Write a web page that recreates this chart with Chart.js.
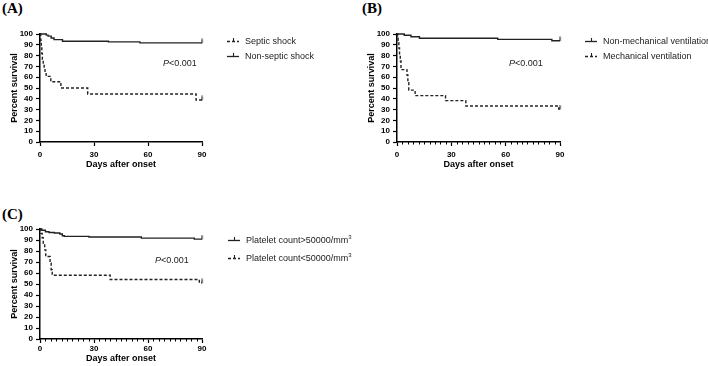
<!DOCTYPE html>
<html><head><meta charset="utf-8">
<script src="https://cdn.jsdelivr.net/npm/chart.js@4"></script>
<style>
html,body{margin:0;padding:0;background:#fff;}
body{width:708px;height:366px;position:relative;overflow:hidden;font-family:"Liberation Sans",Arial,sans-serif;}
canvas{position:absolute;}
.lbl{position:absolute;font-family:"Liberation Serif","Times New Roman",serif;font-weight:bold;font-size:15px;line-height:15px;color:#000;}
.p{position:absolute;font-size:9px;line-height:10px;color:#222;white-space:nowrap;}
.leg{position:absolute;font-size:9px;line-height:10px;height:10px;color:#222;white-space:nowrap;}
.leg svg{position:absolute;left:0;top:0;}
.leg span{position:absolute;top:0;}
sup{font-size:6px;line-height:0;vertical-align:4px;}
</style></head>
<body>
<div class="lbl" style="left:2px;top:1px">(A)</div>
<div class="lbl" style="left:362px;top:1px">(B)</div>
<div class="lbl" style="left:2px;top:207px">(C)</div>
<canvas id="cA" width="215" height="175" style="left:0;top:0"></canvas>
<canvas id="cB" width="215" height="175" style="left:357px;top:0"></canvas>
<canvas id="cC" width="215" height="171" style="left:0;top:195px"></canvas>
<div class="p" style="left:163px;top:58px"><i>P</i>&lt;0.001</div>
<div class="p" style="left:509px;top:58px"><i>P</i>&lt;0.001</div>
<div class="p" style="left:155px;top:255px"><i>P</i>&lt;0.001</div>
<div id="legends"></div>
<script>
// ---- Data ----
const xTicks = [0, 30, 60, 90];
const yTicks = [0, 10, 20, 30, 40, 50, 60, 70, 80, 90, 100];

// Panel A
const aSepticT = [0, 0.4, 0.7, 1.0, 1.3, 1.8, 2.3, 2.8, 3.4, 6.0, 11.6, 26.5, 86.7, 90];
const aSepticS = [100, 94, 88, 82, 76, 72, 68, 64, 60.8, 55.8, 50, 44.5, 38.9, 38.9];
const aNonSepticT = [0, 3.5, 4.5, 6.2, 7.8, 12.5, 38, 55.5, 90];
const aNonSepticS = [100, 99, 98, 96.3, 94.8, 93.3, 92.7, 91.8, 91.8];

// Panel B
const bNonMechT = [0, 4, 7.7, 12.4, 55.6, 85.5, 90];
const bNonMechS = [100, 98.8, 97.5, 96, 95, 93.8, 93.8];
const bMechT = [0, 0.3, 0.6, 1.0, 1.4, 1.8, 2.2, 5.5, 6.0, 6.5, 10.0, 26.8, 38, 89.3, 90];
const bMechS = [100, 96, 92, 87, 81, 75, 67, 62, 55, 48, 42.9, 38.3, 33.3, 30.5, 30.5];

// Panel C
const cHighT = [0, 1, 3, 5, 8, 11, 12.4, 13.5, 27.2, 56.3, 85.7, 90];
const cHighS = [100, 98.8, 97.5, 96.8, 96.3, 95.4, 93.9, 93.3, 92.7, 91.7, 90.8, 90.8];
const cLowT = [0, 0.5, 1.2, 1.8, 2.6, 3.2, 5.6, 6.2, 6.8, 39, 88.5, 90];
const cLowS = [100, 96, 92, 87, 81, 75, 69, 63, 58, 54.1, 51, 51];

const labelsA = ['Septic shock', 'Non-septic shock'];
const labelsB = ['Non-mechanical ventilation', 'Mechanical ventilation'];
const labelsC = ['Platelet count>50000/mm<sup>3</sup>', 'Platelet count<50000/mm<sup>3</sup>'];

// ---- Rendering ----
const FONT = '"Liberation Sans", Arial, sans-serif';
const INK = '#222';

function pts(t, s) { return t.map((v, i) => ({x: v, y: s[i]})); }

// censor tick image (upward tick from the point)
const tick = document.createElement('canvas');
tick.width = 3; tick.height = 9;
(function(){ const c = tick.getContext('2d'); c.strokeStyle = INK; c.lineWidth = 1.2; c.beginPath(); c.moveTo(1.5, 0.5); c.lineTo(1.5, 4.8); c.stroke(); })();

const minorTicks = {
  id: 'minorTicks',
  afterDraw(chart, args, opts) {
    if (!opts || !opts.step) return;
    const xs = chart.scales.x, ctx = chart.ctx, b = chart.chartArea.bottom;
    ctx.save(); ctx.strokeStyle = '#000'; ctx.lineWidth = 1;
    for (let v = opts.step; v < 90; v += opts.step) {
      if (v % 30 === 0) continue;
      const px = Math.round(xs.getPixelForValue(v)) + 0.5;
      ctx.beginPath(); ctx.moveTo(px, b); ctx.lineTo(px, b + opts.len); ctx.stroke();
    }
    ctx.restore();
  }
};

function curve(t, s, dashed) {
  return {
    data: pts(t, s), stepped: 'before', borderColor: INK, borderWidth: 1.4,
    borderDash: dashed ? [3, 2] : [], pointRadius: 0, fill: false, clip: false
  };
}
function censor(t, s) {
  const i = t.length - 1;
  return { data: [{x: t[i], y: s[i]}], showLine: false, pointStyle: tick, pointRadius: 3, clip: false };
}

function makeChart(id, series, cfg) {
  const datasets = [];
  series.forEach(sr => { datasets.push(curve(sr.t, sr.s, sr.dashed)); datasets.push(censor(sr.t, sr.s)); });
  new Chart(document.getElementById(id), {
    type: 'line',
    data: { datasets },
    plugins: [minorTicks],
    options: {
      responsive: false, animation: false, devicePixelRatio: 1,
      layout: { padding: cfg.pad },
      plugins: { legend: {display: false}, tooltip: {enabled: false}, minorTicks: cfg.minor },
      scales: {
        x: {
          type: 'linear', min: 0, max: 90,
          afterBuildTicks: s => { s.ticks = xTicks.map(v => ({value: v})); },
          ticks: { font: {family: FONT, size: 8, weight: 'bold'}, color: '#000', padding: cfg.xTickPad, maxRotation: 0, autoSkip: false },
          grid: { drawOnChartArea: false, drawTicks: true, tickLength: 4, tickColor: '#000', tickWidth: 1.2 },
          border: { display: true, color: '#000', width: 1.5 },
          title: { display: true, text: 'Days after onset', color: '#000', font: {family: FONT, size: 9, weight: 'bold'}, padding: {top: 0, bottom: cfg.xTitlePad} },
          afterFit: s => { s.height = cfg.xH; }
        },
        y: {
          min: 0, max: 100,
          afterBuildTicks: s => { s.ticks = yTicks.map(v => ({value: v})); },
          ticks: { font: {family: FONT, size: 8, weight: 'bold'}, color: '#000', padding: 3, autoSkip: false },
          grid: { drawOnChartArea: false, drawTicks: true, tickLength: 4, tickColor: '#000', tickWidth: 1.2 },
          border: { display: true, color: '#000', width: 1.5 },
          title: { display: true, text: 'Percent survival', color: '#000', font: {family: FONT, size: 9, weight: 'bold'}, padding: {top: 9.6, bottom: 0} },
          afterFit: s => { s.width = 40; }
        }
      }
    }
  });
}

makeChart('cA', [
  {t: aSepticT, s: aSepticS, dashed: true},
  {t: aNonSepticT, s: aNonSepticS, dashed: false}
], {pad: {left: 0, top: 34, right: 13, bottom: 3}, xH: 30, xTickPad: 3.5, xTitlePad: 2.3, minor: null});

makeChart('cB', [
  {t: bNonMechT, s: bNonMechS, dashed: false},
  {t: bMechT, s: bMechS, dashed: true}
], {pad: {left: 0, top: 34, right: 12, bottom: 3}, xH: 30, xTickPad: 3.5, xTitlePad: 2.3, minor: {step: 3, len: 2.5}});

makeChart('cC', [
  {t: cHighT, s: cHighS, dashed: false},
  {t: cLowT, s: cLowS, dashed: true}
], {pad: {left: 0, top: 34, right: 13, bottom: 0}, xH: 27, xTickPad: 1, xTitlePad: 1.6, minor: {step: 3, len: 2.5}});

// legends
function legend(x, textX, y, label, dashed) {
  const d = document.createElement('div');
  d.className = 'leg';
  d.style.left = x + 'px'; d.style.top = (y - 5) + 'px';
  const dash = dashed ? 'stroke-dasharray="3 2"' : '';
  d.innerHTML = '<svg width="13" height="10"><line x1="0" y1="5.5" x2="12" y2="5.5" stroke="' + INK + '" stroke-width="1.3" ' + dash + '/>' +
    '<line x1="6.5" y1="2" x2="6.5" y2="5.5" stroke="' + INK + '" stroke-width="1.1"/></svg>' +
    '<span style="left:' + (textX - x) + 'px">' + label + '</span>';
  document.getElementById('legends').appendChild(d);
}
legend(227, 245, 41, labelsA[0], true);
legend(227, 245, 56, labelsA[1], false);
legend(585, 603, 41, labelsB[0], false);
legend(585, 603, 56, labelsB[1], true);
legend(228, 246, 240, labelsC[0], false);
legend(228, 246, 258, labelsC[1], true);
</script>
</body></html>
